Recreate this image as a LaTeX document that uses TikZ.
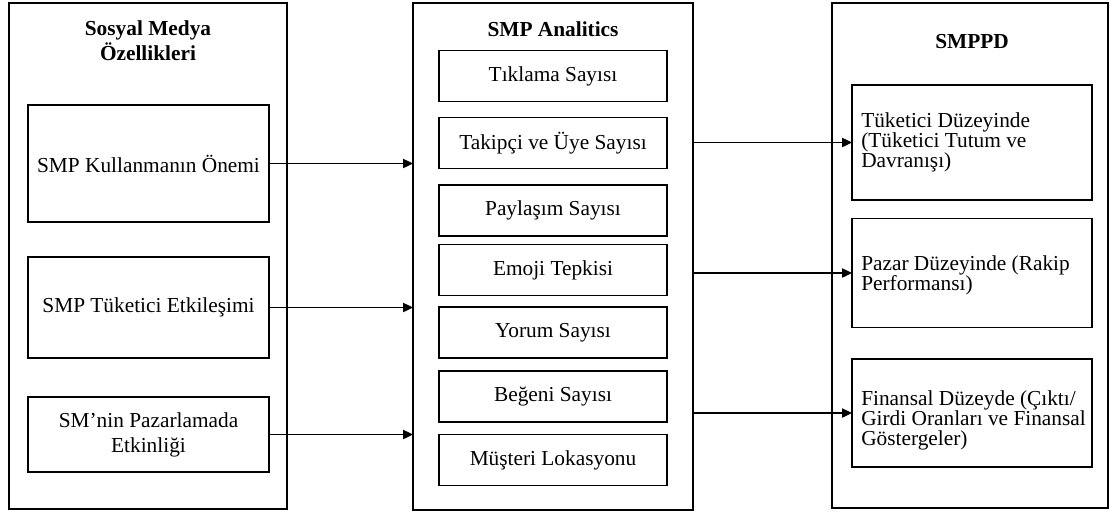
\documentclass[tikz,border=0pt]{standalone}
\usepackage{fontspec}
\setmainfont{Liberation Serif}
\usetikzlibrary{arrows.meta}
\begin{document}
\begin{tikzpicture}[x=0.75pt,y=-0.75pt,
  font=\fontsize{16}{18.75}\selectfont,
  box/.style={draw, line width=0.9pt, inner sep=0pt, outer sep=0pt, align=center},
  frame/.style={box, minimum width=#1},
  leftbox/.style={box, minimum width=180.75pt, minimum height=#1},
  midbox/.style={box, minimum width=171pt, minimum height=38.25pt},
  rightbox/.style={box, minimum width=180pt, minimum height=#1},
  title/.style={font=\fontsize{16}{18.75}\selectfont\bfseries, align=center, inner sep=0pt},
  rtext/.style={anchor=west, align=left, inner sep=0pt, font=\fontsize{16}{15}\selectfont},
  arr/.style={line width=0.9pt, -{Triangle[length=7.5pt, width=7pt]}}
]
\useasboundingbox (0,0) rectangle (1109,515);

% Sosyal medya column
\node[frame=208.5pt, minimum height=379.5pt] (L) at (148,256) {};
\node[title] (Lt) at (148,40.5) {Sosyal Medya\\Özellikleri};
\node[leftbox=87.75pt] (L1) at (148.5,163.5) {SMP Kullanmanın Önemi};
\node[leftbox=75.75pt] (L2) at (148.5,307.5) {SMP Tüketici Etkileşimi};
\node[leftbox=56.25pt] (L3) at (148.5,434.5) {SM’nin Pazarlamada\\Etkinliği};

% Analytics column
\node[frame=210pt, minimum height=380.25pt] (M) at (553,256.5) {};
\node[title] (Mt) at (553,29) {SMP Analitics};
\node[midbox] (M1) at (553,76) {Tıklama Sayısı};
\node[midbox] (M2) at (553,143) {Takipçi ve Üye Sayısı};
\node[midbox] (M3) at (553,210.5) {Paylaşım Sayısı};
\node[midbox] (M4) at (553,270) {Emoji Tepkisi};
\node[midbox] (M5) at (553,332.5) {Yorum Sayısı};
\node[midbox] (M6) at (553,396.5) {Beğeni Sayısı};
\node[midbox] (M7) at (553,460) {Müşteri Lokasyonu};

% SMPPD column
\node[frame=207pt, minimum height=378.75pt] (R) at (970,255.5) {};
\node[title] (Rt) at (972,42) {SMPPD};
\node[rightbox=86.25pt] (R1) at (972,142.5) {};
\node[rightbox=81.75pt] (R2) at (972,273) {};
\node[rightbox=81pt] (R3) at (972,413) {};
\node[rtext] (R1t) at (861,142) {Tüketici Düzeyinde\\(Tüketici Tutum ve\\Davranışı)};
\node[rtext] (R2t) at (861,275) {Pazar Düzeyinde (Rakip\\Performansı)};
\node[rtext] (R3t) at (861,420) {Finansal Düzeyde (Çıktı/\\Girdi Oranları ve Finansal\\Göstergeler)};

% connectors
\draw[arr] (L1.east) -- (L1.east -| M.west);
\draw[arr] (L2.east) -- (L2.east -| M.west);
\draw[arr] (L3.east) -- (L3.east -| M.west);
\draw[arr] (R1.west -| M.east) -- (R1.west);
\draw[arr] (R2.west -| M.east) -- (R2.west);
\draw[arr] (R3.west -| M.east) -- (R3.west);
\end{tikzpicture}
\end{document}
